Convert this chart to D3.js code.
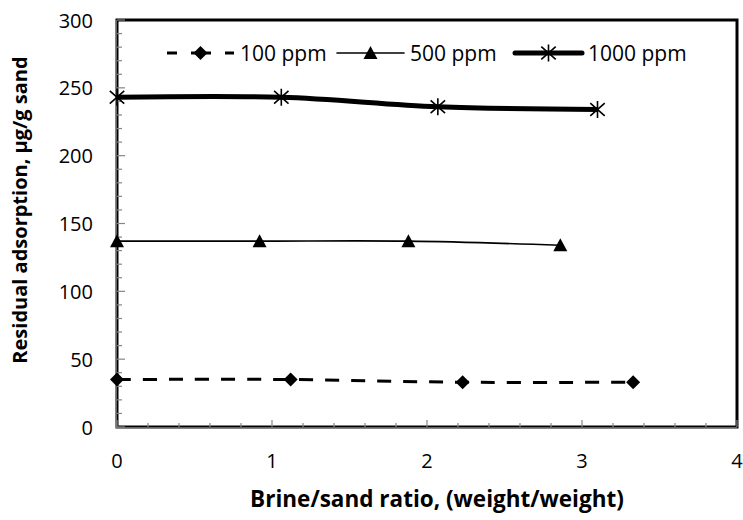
<!DOCTYPE html>
<html>
<head>
<meta charset="utf-8">
<script src="https://cdn.jsdelivr.net/npm/d3@7"></script>
<style>
  body { margin: 0; background: #fff; }
  text { font-family: "Open Sans", sans-serif; fill: #000; }
</style>
</head>
<body>
<div id="chart"></div>
<script>
// data
const seriesNames = ["100 ppm", "500 ppm", "1000 ppm"];
const ratio100 = [0, 1.12, 2.23, 3.33];
const ads100 = [35, 35, 33, 33];
const ratio500 = [0, 0.92, 1.88, 2.86];
const ads500 = [137, 137, 137, 134];
const ratio1000 = [0, 1.06, 2.07, 3.1];
const ads1000 = [243, 243, 236, 234];
const xTicks = [0, 1, 2, 3, 4];
const yTicks = [0, 50, 100, 150, 200, 250, 300];

const width = 743, height = 520;
const margin = { top: 20, right: 6, bottom: 93, left: 117 };

const svg = d3.select("#chart").append("svg")
  .attr("width", width)
  .attr("height", height);

const x = d3.scaleLinear().domain([0, 4]).range([margin.left, width - margin.right]);
const y = d3.scaleLinear().domain([0, 300]).range([height - margin.bottom, margin.top]);

const series = [
  { name: seriesNames[0], xs: ratio100, ys: ads100, width: 3, dash: "14,12", marker: "diamond" },
  { name: seriesNames[1], xs: ratio500, ys: ads500, width: 1.6, dash: null, marker: "triangle" },
  { name: seriesNames[2], xs: ratio1000, ys: ads1000, width: 5, dash: null, marker: "star" },
];

// plot border
svg.append("rect")
  .attr("x", x(0)).attr("y", y(300))
  .attr("width", x(4) - x(0)).attr("height", y(0) - y(300))
  .attr("fill", "none").attr("stroke", "#000").attr("stroke-width", 3);

// minor + major ticks, inside
const grey = "#868686";
const yMinor = d3.range(0, 301, 10);
const xMinor = d3.range(0, 4.01, 0.2);
const tickG = svg.append("g").attr("stroke", grey).attr("stroke-width", 1.2);
tickG.selectAll(".ym").data(yMinor).join("line")
  .attr("x1", x(0)).attr("x2", (d) => x(0) + (d % 50 === 0 ? 8 : 5))
  .attr("y1", (d) => y(d)).attr("y2", (d) => y(d));
tickG.selectAll(".xm").data(xMinor).join("line")
  .attr("y1", y(0)).attr("y2", (d) => y(0) - (Math.abs(d - Math.round(d)) < 1e-6 ? 7 : 4))
  .attr("x1", (d) => x(d)).attr("x2", (d) => x(d));

// axis lines (gray over the black border)
svg.append("line")
  .attr("x1", x(0) - 1).attr("x2", x(0) - 1).attr("y1", y(300)).attr("y2", y(0) + 1)
  .attr("stroke", grey).attr("stroke-width", 1.5);
svg.append("line")
  .attr("x1", x(0) - 1).attr("x2", x(4)).attr("y1", y(0) + 1).attr("y2", y(0) + 1)
  .attr("stroke", grey).attr("stroke-width", 1.5);

// tick labels
svg.append("g").selectAll("text").data(yTicks).join("text")
  .attr("x", x(0) - 24).attr("y", (d) => y(d))
  .attr("text-anchor", "end").attr("dominant-baseline", "central")
  .style("font-size", "20px")
  .text((d) => d);
svg.append("g").selectAll("text").data(xTicks).join("text")
  .attr("x", (d) => x(d)).attr("y", y(0) + 33)
  .attr("text-anchor", "middle").attr("dominant-baseline", "central")
  .style("font-size", "20px")
  .text((d) => d);

// axis titles
svg.append("text")
  .attr("x", 437).attr("y", 507)
  .attr("text-anchor", "middle")
  .style("font-size", "22.5px").style("font-weight", "bold")
  .text("Brine/sand ratio, (weight/weight)");
svg.append("text")
  .attr("transform", "translate(27,210) rotate(-90)")
  .attr("text-anchor", "middle")
  .style("font-size", "20px").style("font-weight", "bold")
  .text("Residual adsorption, µg/g sand");

// markers
function drawMarker(g, type, cx, cy) {
  if (type === "diamond") {
    g.append("path")
      .attr("d", `M${cx},${cy - 7}L${cx + 7},${cy}L${cx},${cy + 7}L${cx - 7},${cy}Z`)
      .attr("fill", "#000");
  } else if (type === "triangle") {
    g.append("path")
      .attr("d", `M${cx},${cy - 7}L${cx + 7},${cy + 6}L${cx - 7},${cy + 6}Z`)
      .attr("fill", "#000");
  } else {
    const r = 8.5;
    g.append("path")
      .attr("d", `M${cx - r * 0.85},${cy - r * 0.75}L${cx + r * 0.85},${cy + r * 0.75}` +
        `M${cx - r * 0.85},${cy + r * 0.75}L${cx + r * 0.85},${cy - r * 0.75}` +
        `M${cx},${cy - r}L${cx},${cy + r}`)
      .attr("stroke", "#000").attr("stroke-width", 1.6).attr("fill", "none");
  }
}

const line = d3.line()
  .x((d) => x(d[0]))
  .y((d) => y(d[1]))
  .curve(d3.curveCatmullRom.alpha(0));

series.forEach((s) => {
  const pts = s.xs.map((v, i) => [v, s.ys[i]]);
  svg.append("path")
    .datum(pts)
    .attr("d", line)
    .attr("fill", "none")
    .attr("stroke", "#000")
    .attr("stroke-width", s.width)
    .attr("stroke-dasharray", s.dash);
  const mg = svg.append("g");
  pts.forEach((p) => drawMarker(mg, s.marker, x(p[0]), y(p[1])));
});

// legend
const legendX = [167, 337, 515];
const legendY = 53;
const lg = svg.append("g");
series.forEach((s, i) => {
  const x0 = legendX[i];
  lg.append("line")
    .attr("x1", x0).attr("x2", x0 + 67)
    .attr("y1", legendY).attr("y2", legendY)
    .attr("stroke", "#000").attr("stroke-width", s.width)
    .attr("stroke-linecap", s.dash ? "butt" : "round")
    .attr("stroke-dasharray", s.dash ? "10,14,20,14,10" : null);
  drawMarker(lg, s.marker, x0 + 33.5, legendY);
  lg.append("text")
    .attr("x", x0 + 73).attr("y", legendY)
    .attr("dominant-baseline", "central")
    .style("font-size", "21px")
    .text(s.name);
});
</script>
</body>
</html>
